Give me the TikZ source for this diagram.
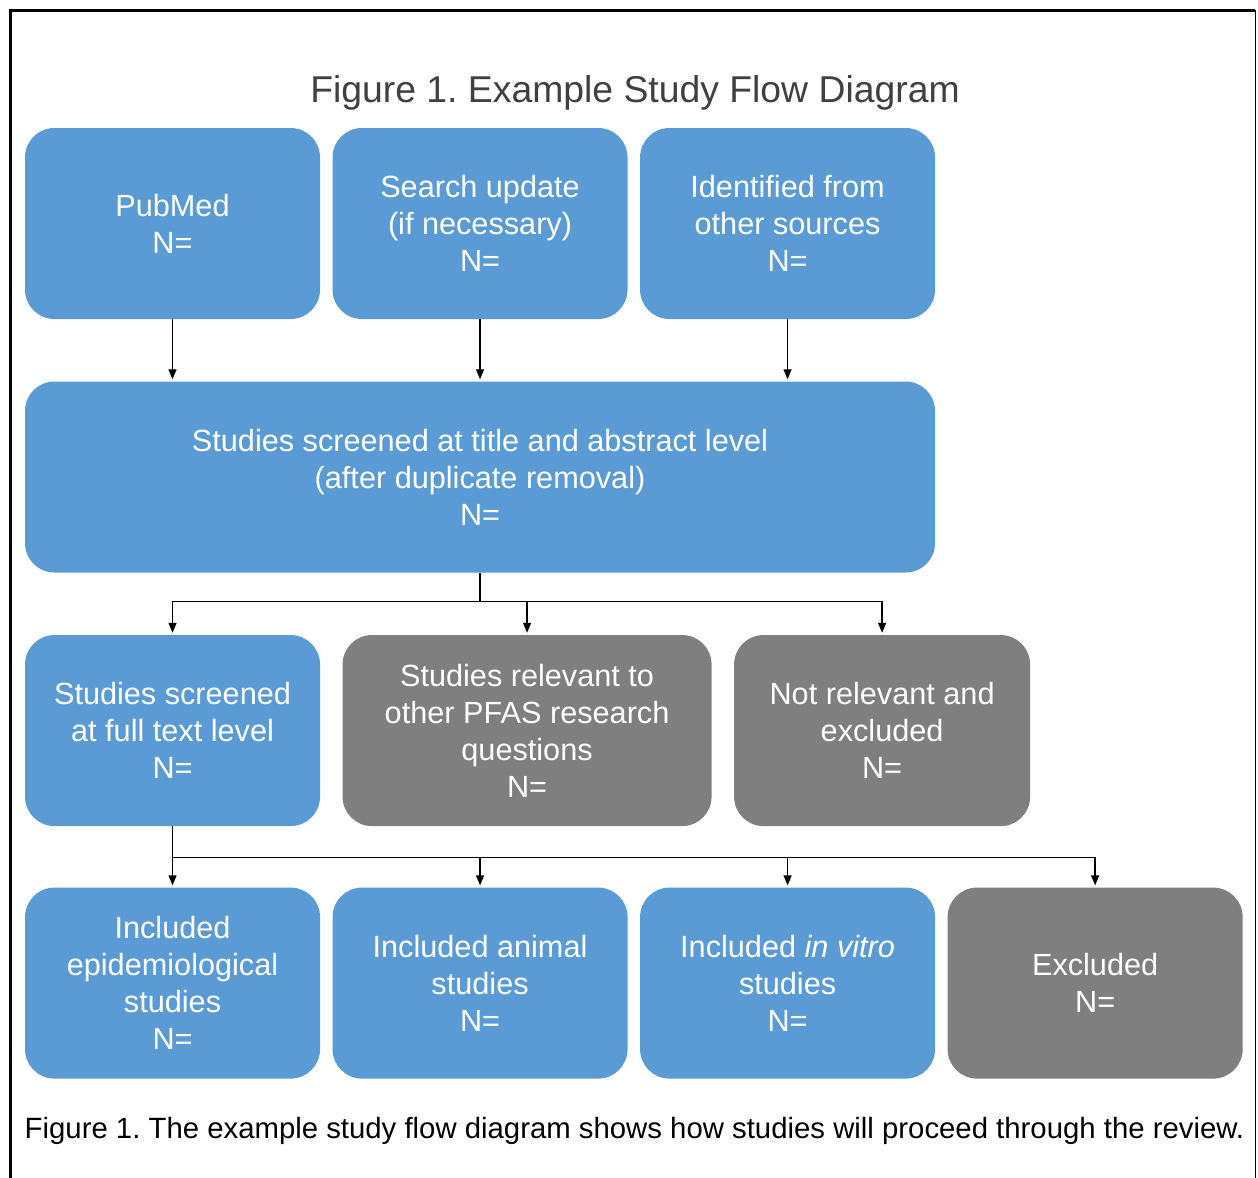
\documentclass[tikz,border=0pt]{standalone}
\usepackage{fontspec}
\setmainfont{Liberation Sans}
\usetikzlibrary{positioning, arrows.meta}
\definecolor{boxblue}{HTML}{5B9BD5}
\definecolor{boxgrey}{HTML}{7F7F7F}
\definecolor{titlegrey}{HTML}{404040}
\tikzset{
	flowbox/.style={rectangle, rounded corners=22pt, text=white, align=center, inner sep=0pt,
		minimum width=221.25pt, minimum height=143.25pt, font=\fontsize{23}{27.75}\selectfont},
	bluebox/.style={flowbox, fill=boxblue},
	greybox/.style={flowbox, fill=boxgrey}
}
\frenchspacing

\begin{document}
\begin{tikzpicture}[
	x=0.75pt, y=-0.75pt,
	arr/.style={-{Triangle[length=7.5pt,width=6pt]}, line width=1pt, shorten >=1.5pt},
	node distance=9pt]
	\useasboundingbox (0,0) rectangle (1258,1178);
	\draw[line width=2.25pt] (10,1178) -- (10,10) -- (1255,10);
	\draw[line width=0.75pt] (1255,10) -- (1255,1178);

	\node[text=titlegrey, font=\fontsize{28}{33}\selectfont] (title) at (635,93) {Figure 1. Example Study Flow Diagram};

	\node[bluebox] (pubmed) at (172.5,223.5) {PubMed\\N=};
	\node[bluebox, right=of pubmed] (search) {Search update\\(if necessary)\\N=};
	\node[bluebox, right=of search] (identified) {Identified from\\other sources\\N=};

	\node[bluebox, minimum width=682.5pt, below=46.5pt of search] (screen) {Studies screened at title and abstract level\\(after duplicate removal)\\N=};

	\node[bluebox, below right=46.5pt and 0pt of screen.south west] (fulltext) {Studies screened\\at full text level\\N=};
	\node[greybox, minimum width=276.75pt, right=16.5pt of fulltext] (relevant) {Studies relevant to\\other PFAS research\\questions\\N=};
	\node[greybox, minimum width=222pt, right=16.5pt of relevant] (notrel) {Not relevant and\\excluded\\N=};

	\node[bluebox, below=45.75pt of fulltext] (epi) {Included\\epidemiological\\studies\\N=};
	\node[bluebox, right=of epi] (animal) {Included animal\\studies\\N=};
	\node[bluebox, right=of animal] (invitro) {Included \textit{in vitro}\\studies\\N=};
	\node[greybox, right=of invitro] (excluded) {Excluded\\N=};

	\node[anchor=west, font=\fontsize{22}{26}\selectfont] (caption) at (20,1131) {Figure 1. The example study flow diagram shows how studies will proceed through the review.};

	\foreach \n in {pubmed,search,identified}
		\draw[arr] (\n.south) -- (\n.south |- screen.north);

	\path (screen.south) ++(0,29) coordinate (split1);
	\draw[line width=1pt] (screen.south) -- (split1);
	\foreach \n in {fulltext,relevant,notrel}
		\draw[arr] (split1) -| (\n.north);

	\path (fulltext.south) ++(0,31) coordinate (split2);
	\draw[line width=1pt] (fulltext.south) -- (split2);
	\foreach \n in {epi,animal,invitro,excluded}
		\draw[arr] (split2) -| (\n.north);
\end{tikzpicture}
\end{document}
